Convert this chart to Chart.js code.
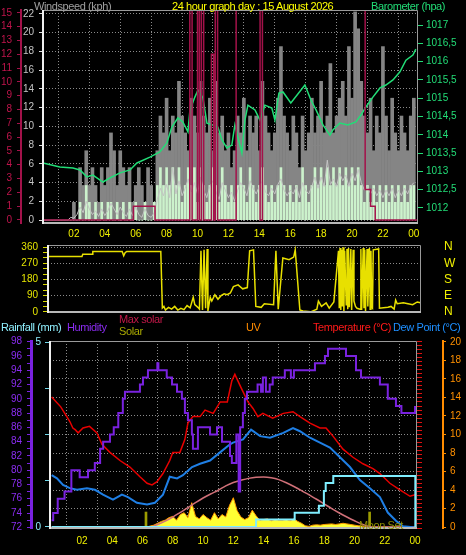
<!DOCTYPE html>
<html>
<head>
<meta charset="utf-8">
<title>24 hour graph day : 15 August 2026</title>
<script src="https://cdn.jsdelivr.net/npm/chart.js@4.4.1/dist/chart.umd.min.js"></script>
<style>
  body { margin: 0; background: #000; }
  #page { position: relative; width: 466px; height: 555px; overflow: hidden; background: #000; font-family: 'Liberation Sans', Arial, sans-serif; }
  #page canvas { position: absolute; left: 0; }
  .lbl { position: absolute; font-size: 11px; line-height: 13px; letter-spacing: -0.4px; white-space: nowrap; }
</style>
</head>
<body>
<div id="page">
  <canvas id="windChart" width="466" height="245" style="top:0"></canvas>
  <canvas id="dirChart" width="466" height="85" style="top:237px"></canvas>
  <canvas id="tempChart" width="466" height="233" style="top:322px"></canvas>

  <div class="lbl" style="left:34px;top:0;color:#a0a0a0">Windspeed (kph)</div>
  <div class="lbl" style="left:172px;top:0;color:#ffff00">24 hour graph day : 15 August 2026</div>
  <div class="lbl" style="left:371px;top:0;color:#22dd77">Barometer (hpa)</div>

  <div class="lbl" style="left:1px;top:321px;color:#8ff0ff">Rainfall (mm)</div>
  <div class="lbl" style="left:67px;top:321px;color:#8a2cf0">Humidity</div>
  <div class="lbl" style="left:119px;top:313px;color:#c01848">Max solar</div>
  <div class="lbl" style="left:119px;top:325px;color:#a8a800">Solar</div>
  <div class="lbl" style="left:246px;top:321px;color:#ff8c00">UV</div>
  <div class="lbl" style="left:313px;top:321px;color:#ff1a1a">Temperature (°C)</div>
  <div class="lbl" style="left:393px;top:321px;color:#1e8fff">Dew Point (°C)</div>
  <div class="lbl" style="left:359px;top:519px;color:#8c8c00">Moon Set</div>
</div>

<script>
// wind samples, one every 12 minutes from 00:00 to 24:00
const WIND_STEP = 0.2;
const gustKph = [
  0, 0, 0, 0, 0, 0, 0, 0, 0, 0,
  1.9, 0, 5.6, 3.7, 7.4, 3.7, 5.6, 3.7, 1.9, 5.6,
  3.7, 5.6, 9.3, 7.4, 3.7, 7.4, 5.6, 3.7, 5.6, 1.9,
  3.7, 5.6, 3.7, 1.9, 5.6, 3.7, 1.9, 7.4, 11.1, 9.3,
  13, 7.4, 11.1, 9.3, 14.8, 11.1, 9.3, 7.4, 13, 11.1,
  9.3, 14.8, 11.1, 9.3, 13, 7.4, 14.8, 9.3, 11.1, 7.4,
  9.3, 5.6, 7.4, 11.1, 9.3, 13, 7.4, 11.1, 9.3, 11.1,
  7.4, 14.8, 11.1, 9.3, 7.4, 9.3, 13, 18.5, 11.1, 9.3,
  7.4, 11.1, 9.3, 5.6, 11.1, 7.4, 9.3, 13, 9.3, 11.1,
  14.8, 9.3, 11.1, 16.7, 9.3, 11.1, 13, 14.8, 11.1, 18.5,
  13, 22.2, 20.4, 14.8, 11.1, 9.3, 13, 7.4, 11.1, 9.3,
  18.5, 11.1, 7.4, 13, 9.3, 7.4, 11.1, 9.3, 7.4, 11.1,
  13
];
const windKph = [
  0, 0, 0, 0, 0, 0, 0, 0, 0, 0,
  0, 0, 1.9, 0, 3.7, 1.9, 0, 1.9, 0, 1.9,
  0, 1.9, 1.9, 0, 1.9, 0, 1.9, 0, 1.9, 0,
  1.9, 0, 0, 1.9, 0, 0, 1.9, 3.7, 5.6, 3.7,
  5.6, 3.7, 5.6, 3.7, 5.6, 1.9, 3.7, 5.6, 3.7, 5.6,
  1.9, 5.6, 3.7, 1.9, 3.7, 5.6, 3.7, 1.9, 5.6, 3.7,
  1.9, 3.7, 1.9, 3.7, 5.6, 3.7, 1.9, 5.6, 3.7, 1.9,
  3.7, 5.6, 3.7, 1.9, 3.7, 1.9, 3.7, 5.6, 3.7, 1.9,
  3.7, 1.9, 3.7, 1.9, 5.6, 3.7, 1.9, 3.7, 5.6, 3.7,
  5.6, 3.7, 5.6, 3.7, 5.6, 3.7, 5.6, 3.7, 5.6, 3.7,
  5.6, 3.7, 5.6, 3.7, 1.9, 3.7, 1.9, 3.7, 1.9, 3.7,
  1.9, 3.7, 1.9, 3.7, 1.9, 3.7, 1.9, 3.7, 1.9, 3.7,
  3.7
];
const avgKph = [
  0, 0, 0, 0, 0, 0, 0, 0, 0, 0.3,
  0.2, 0.6, 1.4, 0.8, 2.0, 1.2, 0.6, 1.0, 0.4, 1.2,
  0.5, 1.0, 1.8, 1.2, 0.6, 1.4, 0.8, 0.4, 1.2, 0.5,
  1.4, 0.6, 0.3, 1.2, 0.5, 0.3, 0.8, 2.2, 3.4, 2.6,
  3.8, 2.4, 5.6, 2.8, 4.2, 2.6, 3.4, 4.4, 3.0, 4.0,
  2.8, 4.6, 3.2, 2.4, 3.6, 4.2, 3.0, 2.2, 4.0, 3.2,
  2.4, 3.0, 2.0, 3.2, 4.0, 3.4, 2.6, 4.2, 3.4, 2.8,
  3.6, 4.2, 3.0, 2.6, 3.4, 2.8, 3.8, 4.4, 3.2, 2.6,
  3.2, 2.8, 3.6, 2.4, 4.0, 3.2, 2.8, 3.6, 4.6, 3.4,
  4.6, 3.6, 6.4, 3.8, 4.4, 3.6, 5.0, 4.2, 4.8, 3.6,
  5.0, 4.2, 5.4, 4.0, 3.2, 3.6, 2.8, 3.4, 2.6, 3.2,
  2.4, 3.2, 2.6, 3.4, 2.4, 3.2, 2.6, 3.4, 2.8, 3.6,
  4.0
];

// crimson step trace on the 0-15 left scale (value changes at these hours)
const rateHours = [0, 5.85, 7.25, 9.5, 9.65, 10.0, 10.12, 10.25, 10.4, 10.9, 11.05, 11.15, 11.3, 12.5, 14.05, 14.2, 20.85, 21.2, 21.5, 24.27];
const rateValues = [0, 1, 0, 16, 0, 16, 0, 16, 0, 12, 0, 16, 0, 16, 0, 16, 2.2, 1, 0, 0];

const baroHours = [0, 1.09, 1.94, 2.39, 2.84, 3.23, 3.88, 4.33, 4.98, 5.63,
  6.08, 6.92, 7.56, 8.02, 8.34, 8.73, 9.05, 9.38, 9.51, 9.83,
  10.03, 10.35, 10.61, 10.93, 11.32, 11.58, 11.9, 12.22, 12.42, 12.61,
  12.87, 13.07, 13.26, 13.72, 14.04, 14.36, 14.81, 15.01, 15.27, 15.53,
  16.04, 16.95, 17.34, 17.67, 18.12, 18.57, 18.76, 19.22, 19.73, 20.25,
  20.58, 20.9, 21.35, 21.81, 22.19, 22.65, 23.1, 23.49, 23.94, 24.13];
const baroHpa = [1013.23, 1013.12, 1013.09, 1013.04, 1012.85, 1012.9, 1012.71, 1012.82, 1012.96, 1013.04,
  1013.23, 1013.39, 1013.53, 1013.78, 1014.21, 1014.46, 1014.35, 1014.08, 1014.68, 1015.03,
  1015.22, 1015.01, 1014.32, 1014.27, 1014.21, 1013.86, 1013.64, 1013.72, 1014.27, 1013.94,
  1013.5, 1014.4, 1014.81, 1014.68, 1014.4, 1014.81, 1014.73, 1014.4, 1015.14, 1015.17,
  1014.87, 1015.36, 1014.95, 1014.68, 1014.27, 1013.99, 1014.13, 1014.32, 1014.27, 1014.35,
  1014.54, 1014.76, 1015.03, 1015.28, 1015.36, 1015.5, 1015.72, 1016.04, 1016.18, 1016.34];

// wind direction (degrees)
const dirHours = [0, 2.2, 2.25, 2.85, 2.9, 4.8, 4.9, 5.0, 5.1, 7.3,
  7.4, 7.5, 7.6, 7.8, 8.0, 8.2, 8.4, 8.6, 8.8, 9.0,
  9.2, 9.4, 9.5, 9.7, 9.8, 9.9, 10.0, 10.1, 10.2, 10.3,
  10.35, 10.5, 10.6, 10.8, 11.0, 11.2, 11.4, 11.6, 11.8, 12.0,
  12.3, 12.6, 12.9, 13.05, 13.3, 13.45, 13.8, 14.0, 14.6, 14.75,
  14.9, 15.2, 15.6, 15.9, 16.0, 16.3, 16.5, 17.0, 17.4, 17.5,
  17.7, 18.0, 18.2, 18.5, 18.8, 18.85, 18.9, 18.95, 19.0, 19.05,
  19.1, 19.15, 19.2, 19.3, 19.35, 19.4, 19.45, 19.5, 19.6, 19.65,
  19.75, 19.8, 19.9, 20.0, 20.2, 20.25, 20.3, 20.4, 20.45, 20.5,
  20.55, 20.65, 20.7, 20.8, 20.85, 20.9, 20.95, 21.0, 21.05, 21.4,
  21.45, 22.0, 22.2, 22.4, 22.5, 22.6, 23.0, 23.3, 23.6, 23.9, 24.1];
const dirDeg = [308, 308, 321, 321, 336, 336, 312, 330, 336, 336,
  21, 30, 10, 25, 15, 30, 10, 20, 12, 35,
  22, 81, 40, 25, 15, 340, 10, 345, 20, 350,
  5, 80, 60, 95, 70, 90, 100, 95, 105, 140,
  150, 128, 135, 340, 345, 30, 25, 45, 40, 340,
  15, 300, 290, 305, 345, 10, 5, 0, 15, 60,
  30, 50, 20, 55, 340, 20, 355, 10, 345, 30,
  360, 5, 340, 40, 350, 15, 355, 25, 350, 10,
  345, 60, 30, 20, 15, 350, 10, 355, 20, 345,
  5, 350, 30, 355, 15, 340, 25, 20, 345, 350,
  20, 25, 30, 15, 65, 45, 50, 45, 40, 55, 50];
const COMPASS = { 0: 'N', 90: 'E', 180: 'S', 270: 'W', 360: 'N' };

// bottom panel
const tempHours = [0, 0.6, 1.0, 1.2, 1.4, 1.55, 1.75, 2.07, 2.5, 2.99,
  3.32, 3.85, 4.51, 5.17, 5.83, 6.3, 6.63, 6.96, 7.35, 7.8,
  8.0, 8.47, 8.8, 9.0, 9.33, 9.8, 10.13, 10.67, 11.13, 11.6,
  11.9, 12.1, 12.5, 12.97, 13.3, 13.62, 13.95, 14.6, 15.3, 15.94,
  16.4, 17.06, 17.72, 18.12, 18.58, 19.24, 19.9, 20.56, 21.22, 21.68,
  22.34, 23.0, 23.67, 24.0];
const tempC = [23.0, 22.4, 21.8, 21.5, 21.1, 21.0, 20.8, 21.1, 21.2, 20.8,
  20.1, 19.6, 19.1, 18.7, 18.1, 17.7, 17.6, 17.8, 18.3, 19.1,
  19.6, 19.6, 20.4, 21.4, 21.8, 21.8, 22.2, 22.0, 22.7, 22.7,
  24.0, 24.4, 23.6, 22.7, 22.3, 21.8, 22.0, 21.7, 22.0, 22.1,
  21.8, 21.4, 21.1, 21.1, 20.6, 19.8, 19.3, 18.9, 18.6, 18.3,
  17.7, 17.3, 16.9, 17.0];

const dewHours = [0, 0.35, 0.75, 1.2, 1.67, 2.33, 2.86, 3.39, 4.05, 4.64,
  5.04, 5.63, 6.3, 6.82, 7.35, 7.8, 8.28, 8.67, 9.27, 9.8,
  10.46, 11.12, 11.78, 11.98, 12.64, 13.17, 13.77, 14.42, 15.3, 15.94,
  16.4, 17.06, 17.72, 18.38, 19.04, 19.7, 20.36, 21.02, 21.68, 22.2,
  22.74, 23.2, 23.86, 24.0];
const dewC = [18.2, 18.0, 17.6, 17.4, 17.3, 17.4, 17.3, 17.0, 16.7, 17.0,
  16.85, 16.5, 16.4, 16.5, 17.0, 18.1, 18.0, 18.2, 18.7, 18.9,
  19.1, 19.6, 20.1, 20.2, 20.4, 21.0, 20.6, 20.5, 20.8, 21.1,
  20.9, 20.5, 20.2, 19.9, 19.3, 18.7, 17.9, 17.4, 16.85, 15.9,
  15.4, 15.06, 15.0, 14.95];

const humHours = [0, 0.1, 0.4, 0.85, 1.3, 1.85, 2.4, 2.85, 3.2, 3.4,
  3.85, 4.1, 4.4, 4.7, 4.84, 5.83, 6.03, 6.36, 6.98, 7.05,
  7.6, 7.95, 8.28, 8.6, 8.8, 9.0, 9.26, 9.33, 9.66, 10.46,
  10.92, 11.25, 11.78, 11.9, 12.2, 12.35, 12.45, 12.63, 12.76, 12.9,
  13.6, 13.83, 13.95, 14.15, 14.4, 14.6, 15.4, 15.8, 16.0, 17.39,
  18.05, 18.25, 19.24, 19.44, 20.1, 20.43, 21.68, 22.2, 22.74, 23.1, 24.0];
const humPct = [73, 74, 76, 77, 80, 79, 80, 81, 83, 84,
  85, 86, 88, 90, 91, 92, 93, 94, 95, 94,
  93, 92, 91, 90, 88, 87, 85, 83, 86, 85,
  86, 84, 82, 81, 85, 77, 86, 88, 90, 91,
  92, 91, 93, 91, 92, 93, 94, 93, 94, 95,
  96, 97, 97, 96, 94, 93, 92, 90, 89, 88, 89];

const maxSolarHours = [0, 6.5, 7.0, 7.5, 8.0, 8.5, 9.0, 9.5, 10.0, 10.5,
  11.0, 11.5, 12.0, 12.5, 13.0, 13.5, 14.0, 14.5, 15.0, 15.5,
  16.0, 16.5, 17.0, 17.5, 18.0, 18.5, 19.0, 19.5, 20.0, 20.5,
  21.0, 21.2, 24.0];
const maxSolarW = [0, 0, 40, 95, 160, 235, 310, 390, 465, 530,
  590, 660, 715, 750, 780, 798, 802, 790, 760, 710,
  650, 585, 515, 445, 370, 295, 225, 160, 100, 45,
  5, 0, 0];

const solarHours = [0, 6.25, 6.5, 6.75, 7.0, 7.25, 7.5, 7.75, 8.0, 8.25,
  8.5, 8.75, 9.0, 9.25, 9.5, 9.75, 10.0, 10.25, 10.5, 10.75,
  11.0, 11.25, 11.5, 11.75, 12.0, 12.25, 12.5, 12.75, 13.0, 13.25,
  13.5, 13.75, 14.0, 14.25, 14.5, 14.75, 15.0, 15.25, 15.5, 15.75,
  16.0, 16.25, 16.5, 16.75, 17.0, 17.25, 17.5, 17.75, 18.0, 18.25,
  18.5, 18.75, 19.0, 19.25, 19.5, 19.75, 20.0, 20.25, 20.5, 20.75,
  21.0, 24.0];
const solarW = [0, 0, 15, 30, 60, 90, 110, 150, 170, 110,
  200, 230, 150, 390, 170, 130, 200, 150, 110, 230,
  130, 200, 160, 350, 470, 260, 160, 120, 150, 270,
  180, 110, 120, 130, 100, 120, 110, 110, 120, 100,
  130, 90, 60, 20, 10, 30, 35, 30, 40, 45,
  50, 40, 50, 60, 50, 40, 30, 20, 15, 5,
  0, 0];

// sunrise / moon set markers
const markerHours = [6.23, 21.0];
const markerW = [240, 240];

const rainHours = [0, 13.5, 16.05, 17.65, 17.98, 18.1, 18.6, 24.02];
const rainMm = [0, 0.2, 0.38, 0.57, 0.97, 1.19, 1.38, 0];

// ---------------------------------------------------------------

const pts = (xs, ys) => xs.map((x, i) => ({ x, y: ys[i] }));
const windHours = gustKph.map((_, i) => i * WIND_STEP);

Chart.defaults.font.family = "'Liberation Sans', Arial, sans-serif";
Chart.defaults.font.size = 10;
Chart.defaults.animation = false;
Chart.defaults.plugins.legend.display = false;
Chart.defaults.plugins.tooltip.enabled = false;
Chart.defaults.elements.point.radius = 0;

const dotted = '#8a8a8a';

// fixed axis boxes so each plot sits where the reference has it
const fit = (w, h) => s => {
  if (w != null) s.width = w;
  if (h != null) s.height = h;
  s.paddingLeft = s.paddingRight = s.paddingTop = s.paddingBottom = 0;
};
const hourTick = v => v <= 0 ? '' : String(v % 24).padStart(2, '0');

// plot frame: grey top/right/bottom, white left
const frame = {
  id: 'frame',
  afterDatasetsDraw(chart) {
    const { ctx, chartArea: a } = chart;
    ctx.save();
    ctx.lineWidth = 1;
    ctx.strokeStyle = '#9a9a9a';
    ctx.beginPath();
    ctx.moveTo(a.left, a.top + 0.5);
    ctx.lineTo(a.right - 0.5, a.top + 0.5);
    ctx.lineTo(a.right - 0.5, a.bottom);
    ctx.stroke();
    ctx.lineWidth = 2;
    ctx.strokeStyle = '#b8b8b8';
    ctx.beginPath();
    ctx.moveTo(a.left, a.bottom);
    ctx.lineTo(a.right, a.bottom);
    ctx.stroke();
    ctx.strokeStyle = '#f0f0f0';
    ctx.beginPath();
    ctx.moveTo(a.left, a.top);
    ctx.lineTo(a.left, a.bottom + 1);
    ctx.stroke();
    ctx.restore();
  }
};

function timeAxis(min, max, pad, height) {
  return {
    type: 'linear', min, max, offset: false,
    ticks: { stepSize: 2, callback: hourTick, color: '#f0f000', padding: pad, maxRotation: 0, autoSkip: false, includeBounds: false },
    grid: { color: dotted, drawTicks: false },
    border: { display: false, dash: [1, 2] },
    afterFit: fit(null, height)
  };
}

new Chart(document.getElementById('windChart'), {
  type: 'line',
  data: {
    datasets: [
      { type: 'bar', label: 'Gust', data: pts(windHours, gustKph), yAxisID: 'wind', backgroundColor: '#858585', barThickness: 3, grouped: false, order: 5 },
      { type: 'bar', label: 'Wind', data: pts(windHours, windKph), yAxisID: 'wind', backgroundColor: '#ccf2cc', barThickness: 2, grouped: false, order: 4 },
      { label: 'Average', data: pts(windHours, avgKph), yAxisID: 'wind', borderColor: '#c4c4c4', borderWidth: 1, order: 3 },
      { label: 'Barometer', data: pts(baroHours, baroHpa), yAxisID: 'baro', borderColor: '#22dd77', borderWidth: 1.5, order: 2 },
      { label: 'Rate', data: pts(rateHours, rateValues), yAxisID: 'rate', borderColor: '#a3124a', borderWidth: 1.5, stepped: true, order: 1 }
    ]
  },
  options: {
    responsive: false,
    layout: { padding: { top: 10, left: 0, right: 0, bottom: 0 } },
    scales: {
      x: timeAxis(0, 24.27, 5, 22),
      wind: {
        position: 'left', weight: 0, min: -0.3, max: 22.4,
        ticks: { stepSize: 2, color: '#c4c4c4', padding: 5, autoSkip: false, includeBounds: false },
        grid: { color: dotted, tickColor: '#e0e0e0', tickLength: 4 },
        border: { display: false, dash: [1, 2] },
        afterFit: fit(22)
      },
      rate: {
        position: 'left', weight: 1, min: -0.22, max: 15.2,
        ticks: { stepSize: 1, color: '#c0144c', padding: 5, autoSkip: false, includeBounds: false },
        grid: { drawOnChartArea: false, color: '#a3124a', tickLength: 4 },
        border: { color: '#a3124a', width: 2 },
        afterFit: fit(21)
      },
      baro: {
        position: 'right', min: 1011.59, max: 1017.41,
        ticks: {
          stepSize: 0.5, color: '#22dd77', padding: 3, autoSkip: false, includeBounds: false,
          callback: v => (Math.abs(v % 1) > 0.01 ? v.toFixed(1) : v.toFixed(0)).replace('.', ',')
        },
        grid: { drawOnChartArea: false, color: '#22dd77', tickLength: 5 },
        border: { display: false },
        afterFit: fit(48)
      }
    }
  },
  plugins: [frame]
});

new Chart(document.getElementById('dirChart'), {
  type: 'line',
  data: {
    datasets: [
      { label: 'Direction', data: pts(dirHours, dirDeg), yAxisID: 'dir', borderColor: '#e8e000', borderWidth: 1.5 }
    ]
  },
  options: {
    responsive: false,
    layout: { padding: { top: 8, left: 0, right: 0, bottom: 10 } },
    scales: {
      x: { type: 'linear', display: false, min: 0, max: 24.14 },
      dir: {
        position: 'left', min: -1, max: 372,
        ticks: { stepSize: 30, color: '#e4e400', padding: 5, autoSkip: false, includeBounds: false, callback: v => v % 90 === 0 ? v : '' },
        grid: { color: c => c.tick && c.tick.value % 90 === 0 ? dotted : 'rgba(0,0,0,0)', tickColor: '#d8d800', tickLength: 5 },
        border: { display: false, dash: [1, 2] },
        afterFit: fit(48)
      },
      compass: {
        position: 'right', min: -1, max: 372,
        ticks: { stepSize: 90, color: '#f0f000', padding: 15, font: { size: 12 }, autoSkip: false, includeBounds: false, callback: v => COMPASS[v] },
        grid: { display: false },
        border: { display: false },
        afterFit: fit(45)
      }
    }
  },
  plugins: [frame]
});

new Chart(document.getElementById('tempChart'), {
  type: 'line',
  data: {
    datasets: [
      { label: 'Solar', data: pts(solarHours, solarW), yAxisID: 'solar', borderColor: '#ff9a00', borderWidth: 1, backgroundColor: '#ffff33', fill: 'origin', order: 9 },
      { type: 'bar', label: 'Sun/Moon', data: pts(markerHours, markerW), yAxisID: 'solar', backgroundColor: '#9c9c00', barThickness: 2, grouped: false, order: 8 },
      { label: 'Max solar', data: pts(maxSolarHours, maxSolarW), yAxisID: 'solar', borderColor: '#d07078', borderWidth: 1.5, cubicInterpolationMode: 'monotone', order: 7 },
      { label: 'Dew Point', data: pts(dewHours, dewC), yAxisID: 'temp', borderColor: '#1f7fe5', borderWidth: 2, order: 6 },
      { label: 'Temperature', data: pts(tempHours, tempC), yAxisID: 'temp', borderColor: '#e80000', borderWidth: 1.5, order: 5 },
      { label: 'Humidity', data: pts(humHours, humPct), yAxisID: 'hum', borderColor: '#7a22e0', borderWidth: 2, stepped: true, order: 4 },
      { label: 'Rainfall', data: pts(rainHours, rainMm), yAxisID: 'rain', borderColor: '#7feeff', borderWidth: 2, stepped: true, order: 3 }
    ]
  },
  options: {
    responsive: false,
    layout: { padding: { top: 19, left: 0, right: 0, bottom: 0 } },
    scales: {
      x: timeAxis(-0.11, 24.13, 7, 27),
      hum: {
        position: 'left', weight: 1, min: 71.9, max: 98.1,
        ticks: { stepSize: 1, color: '#8a2cf0', padding: 5, autoSkip: false, includeBounds: false, callback: v => v % 2 === 0 ? v : '' },
        grid: { drawOnChartArea: false, color: '#7a22e0', tickLength: 4 },
        border: { color: '#7a22e0', width: 3 },
        afterFit: fit(31)
      },
      rain: {
        position: 'left', weight: 0, min: -0.03, max: 5.03,
        ticks: { stepSize: 1.25, color: '#8ff0ff', padding: 4, autoSkip: false, includeBounds: false, callback: v => v === 0 || v === 5 ? v : '' },
        grid: { drawOnChartArea: false, color: '#6fd8e8', tickLength: 5 },
        border: { display: false },
        afterFit: fit(19)
      },
      temp: {
        position: 'right', weight: 0, min: 14.95, max: 26.45,
        ticks: { stepSize: 0.25, color: '#ff2020', padding: 4, autoSkip: false, includeBounds: false, callback: v => Number.isInteger(v) ? v : '' },
        grid: { drawOnChartArea: false, color: '#e01010', tickLength: 5 },
        border: { display: false },
        afterFit: fit(26)
      },
      uv: {
        position: 'right', weight: 1, min: -0.1, max: 20.1,
        ticks: { stepSize: 2, color: '#ff9000', padding: 4, autoSkip: false, includeBounds: false },
        grid: { color: dotted, tickColor: '#ff9000', tickLength: 3 },
        border: { color: '#ff8c00', width: 2, dash: [1, 2] },
        afterFit: fit(23)
      },
      solar: { display: false, min: -16, max: 2984 }
    }
  },
  plugins: [frame]
});
</script>
</body>
</html>
